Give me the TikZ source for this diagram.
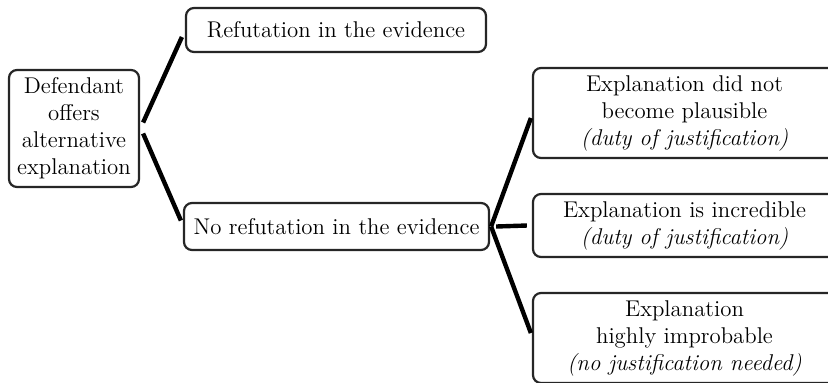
\documentclass[tikz,border=0pt]{standalone}
\usetikzlibrary{calc}

\begin{document}
\begin{tikzpicture}[
        x=0.5pt, y=-0.5pt,
        font=\fontsize{11.4}{13.5}\selectfont,
        box/.style={draw=black!85, line width=1.1pt, fill=white, rounded corners=4pt,
          align=center, inner sep=2pt},
        branch/.style={line width=2.2pt, draw=black}
      ]
        \useasboundingbox (0,0) rectangle (828,382);
        \node[box, minimum width=65pt, minimum height=58.5pt] (offer) at (74,128.5)
          {Defendant\\offers\\alternative\\explanation};
        \node[box, minimum width=150pt, minimum height=22pt] (refut) at (336,30)
          {Refutation in the evidence};
        \node[box, minimum width=152.5pt, minimum height=23.5pt] (norefut) at (336.5,226.5)
          {No refutation in the evidence};
        \node[box, minimum width=151.5pt, minimum height=45pt] (plaus) at (684.5,113)
          {Explanation did not\\become plausible\\\textit{(duty of justification)}};
        \node[box, minimum width=151.5pt, minimum height=31.5pt] (incred) at (684.5,225.5)
          {Explanation is incredible\\\textit{(duty of justification)}};
        \node[box, minimum width=151.5pt, minimum height=45pt] (improb) at (684.5,338)
          {Explanation\\highly improbable\\\textit{(no justification needed)}};
        % first level
        \draw[branch] ([xshift=1.5pt,yshift=3pt]offer.east) -- ([xshift=-1.5pt,yshift=-3.5pt]refut.west);
        \draw[branch] ([xshift=1.5pt,yshift=-2.5pt]offer.east) -- ([xshift=-1pt,yshift=3pt]norefut.west);
        % second level
        \draw[branch] ([xshift=0.5pt]norefut.east) -- ([xshift=-0.5pt,yshift=-2.5pt]plaus.west);
        \draw[branch] ([xshift=3pt]norefut.east) -- ([xshift=-2.5pt]incred.west);
        \draw[branch] ([xshift=0.5pt]norefut.east) -- ([xshift=-0.5pt,yshift=2.5pt]improb.west);
      \end{tikzpicture}
\end{document}
